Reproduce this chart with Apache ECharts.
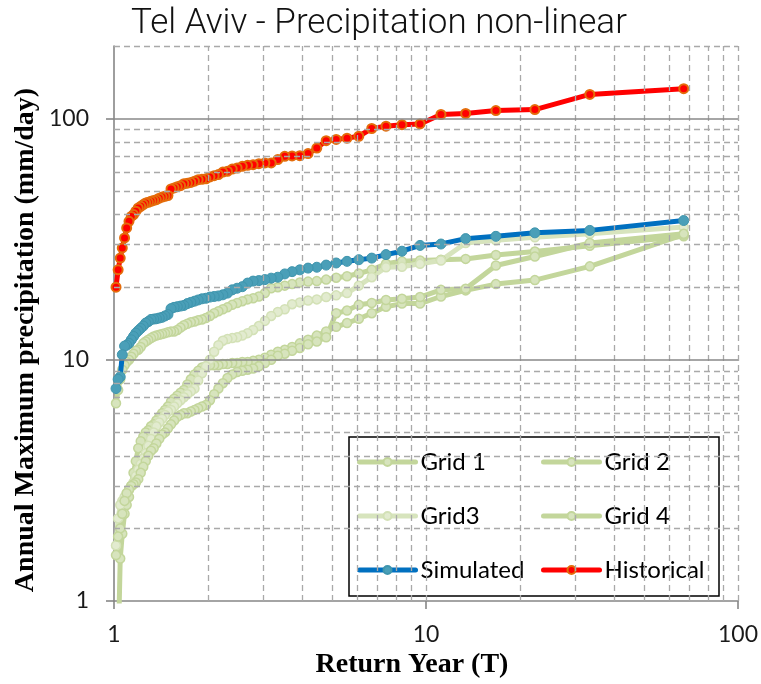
<!DOCTYPE html>
<html>
<head>
<meta charset="utf-8">
<script src="https://cdn.jsdelivr.net/npm/echarts@6/dist/echarts.min.js"></script>
<style>
html,body{margin:0;padding:0;background:#fff;}
#chart{width:761px;height:684px;}
</style>
</head>
<body>
<div id="chart"></div>
<script>
// Return periods T (plotting positions), rank 1..66
const returnYears = [67, 33.5, 22.333, 16.75, 13.4, 11.167, 9.571, 8.375, 7.444, 6.7,
  6.091, 5.583, 5.154, 4.786, 4.467, 4.188, 3.941, 3.722, 3.526, 3.35,
  3.19, 3.045, 2.913, 2.792, 2.68, 2.577, 2.481, 2.393, 2.31, 2.233,
  2.161, 2.094, 2.03, 1.971, 1.914, 1.861, 1.811, 1.763, 1.718, 1.675,
  1.634, 1.595, 1.558, 1.523, 1.489, 1.457, 1.426, 1.396, 1.367, 1.34,
  1.314, 1.288, 1.264, 1.241, 1.218, 1.196, 1.175, 1.155, 1.136, 1.117,
  1.098, 1.081, 1.063, 1.047, 1.031, 1.015];

const grid1 = [32.5, 29.7, 28.1, 27.2, 26.2, 26.0, 25.8, 25.6, 25.0, 23.6,
  22.8, 22.2, 21.9, 21.5, 21.2, 21.1, 20.9, 20.6, 20.3, 20.0,
  19.8, 18.9, 18.3, 18.0, 17.8, 17.5, 17.2, 16.9, 16.5, 16.2,
  15.9, 15.6, 15.2, 14.9, 14.7, 14.6, 14.4, 14.3, 14.1, 13.9,
  13.6, 13.3, 13.1, 13.1, 13.0, 12.9, 12.8, 12.7, 12.6, 12.5,
  12.3, 12.1, 11.9, 11.7, 11.3, 11.0, 10.9, 10.6, 10.3, 10.0,
  9.8, 9.5, 9.1, 8.3, 7.5, 6.6];

const grid2 = [33.0, 24.4, 21.4, 20.6, 19.4, 18.3, 17.1, 17.1, 16.6, 15.6,
  14.8, 14.2, 13.7, 13.1, 12.6, 12.1, 11.7, 11.3, 11.0, 10.8,
  10.5, 10.2, 10.0, 9.9, 9.8, 9.8, 9.7, 9.7, 9.6, 9.6,
  9.5, 9.5, 9.5, 9.4, 9.3, 9.0, 8.7, 8.3, 7.9, 7.5,
  7.3, 7.1, 6.9, 6.7, 6.4, 6.2, 6.0, 5.8, 5.6, 5.4,
  5.3, 5.1, 5.0, 4.8, 4.6, 4.3, 3.8, 3.4, 3.0, 2.7,
  2.5, 2.3, 1.9, 1.5, 0.6, 0.3];

const grid3 = [35.5, 33.3, 32.2, 31.3, 30.5, 25.8, 25.0, 24.3, 24.2, 22.0,
  20.3, 18.9, 18.5, 18.2, 17.8, 17.6, 17.3, 17.0, 16.2, 15.8,
  15.2, 14.5, 13.8, 13.3, 12.9, 12.6, 12.4, 12.3, 12.2, 12.0,
  11.5, 10.8, 10.0, 9.4, 8.8, 8.2, 7.6, 7.4, 7.2, 7.0,
  6.8, 6.6, 6.4, 6.2, 6.1, 5.9, 5.7, 5.5, 5.3, 5.0,
  4.7, 4.4, 4.1, 3.9, 3.7, 3.5, 3.3, 3.1, 3.0, 2.9,
  2.8, 2.7, 2.6, 2.5, 2.2, 1.7];

const grid4 = [33.3, 30.5, 26.8, 24.6, 19.7, 19.5, 18.2, 17.9, 17.7, 17.2,
  16.9, 16.0, 15.6, 12.4, 11.9, 11.6, 11.2, 10.9, 10.6, 10.4,
  10.0, 9.7, 9.4, 9.2, 9.1, 9.0, 8.9, 8.7, 8.4, 8.0,
  7.6, 7.2, 6.8, 6.5, 6.4, 6.3, 6.2, 6.1, 6.0, 6.0,
  5.9, 5.8, 5.6, 5.4, 5.2, 5.0, 4.9, 4.7, 4.5, 4.3,
  4.2, 4.0, 3.8, 3.6, 3.4, 3.2, 3.1, 3.05, 3.0, 2.9,
  2.8, 2.6, 2.3, 2.0, 1.85, 1.55];

const simulated = [37.8, 34.4, 33.6, 32.5, 31.8, 30.2, 29.8, 28.2, 27.3, 26.4,
  26.0, 25.6, 25.2, 24.7, 24.2, 24.0, 23.6, 23.2, 22.7, 22.0,
  21.8, 21.5, 21.3, 21.2, 20.8, 20.1, 19.8, 19.5, 18.9, 18.6,
  18.4, 18.3, 18.2, 18.0, 17.9, 17.7, 17.5, 17.3, 17.1, 16.8,
  16.7, 16.6, 16.5, 16.3, 15.4, 15.2, 15.0, 14.9, 14.8, 14.75,
  14.7, 14.4, 14.2, 13.8, 13.5, 13.2, 12.9, 12.5, 12.1, 11.7,
  11.5, 11.4, 10.5, 8.5, 8.3, 7.6];

const historical = [133, 126, 109, 108, 105, 104, 95, 94.4, 93, 91,
  84.5, 83, 82, 81, 75.5, 71.6, 70.2, 70, 69.8, 67.6,
  65.5, 65.5, 65, 64.4, 64, 63.4, 62.4, 61.8, 60.5, 60,
  58.6, 58, 57.3, 56.3, 56, 55.8, 55, 54.4, 54, 53.7,
  52.7, 52.2, 51.6, 51.1, 48, 47.6, 47.3, 46.8, 46.1, 45.8,
  45.4, 45, 44.7, 44, 43.3, 42.6, 41.3, 40, 39.3, 37.5,
  35.2, 32, 29.1, 26.4, 23.6, 20];

const xTickLabels = [1, 10, 100];
const yTickLabels = [1, 10, 100];
const xMinorGrid = [2, 3, 4, 5, 6, 7, 8, 9, 10, 20, 30, 40, 50, 60, 70, 80, 90, 100];
const yMinorGrid = [2, 3, 4, 5, 6, 7, 8, 9, 20, 30, 40, 50, 60, 70, 80, 90, 200];
const yMajorGrid = [10, 100];
const titleText = 'Tel Aviv - Precipitation non-linear';
const xTitle = 'Return Year (T)';
const yTitle = 'Annual Maximum precipitation (mm/day)';

function pairs(vals) { return vals.map((v, i) => [returnYears[i], v]); }

const chart = echarts.init(document.getElementById('chart'), null, {renderer: 'canvas'});

const gridStyle = {
  green: {line: '#c3d69b', fill: '#d7e4bd', border: '#c3d69b'},
  light: {line: '#d7e4bd', fill: '#e2ebcf', border: '#d3e1b6'}
};

function lineSeries(name, vals, lineColor, fill, border, size, borderW, z) {
  return {
    name: name, type: 'line', data: pairs(vals), z: z,
    symbol: 'circle', symbolSize: size, clip: true,
    lineStyle: {color: lineColor, width: 5, join: 'round', cap: 'round'},
    itemStyle: {color: fill, borderColor: border, borderWidth: borderW},
    emphasis: {disabled: true}
  };
}

const dashed = {color: '#a9a9a9', width: 1.3, type: [6, 4]};
const markLineData = [];
xMinorGrid.forEach(v => markLineData.push({xAxis: v, lineStyle: dashed}));
yMinorGrid.forEach(v => markLineData.push({yAxis: v, lineStyle: dashed}));
yMajorGrid.forEach(v => markLineData.push({yAxis: v, lineStyle: {color: '#898989', width: 1.6, type: 'solid'}}));

const labelFont = 'Lato, "Liberation Sans", sans-serif';

const legendCommon = {
  orient: 'vertical', top: 450, itemWidth: 56, itemHeight: 10, itemGap: 30, padding: 0,
  textStyle: {color: '#000', fontSize: 24, fontFamily: labelFont},
  lineStyle: {width: 5}, selectedMode: false
};

const option = {
  animation: false,
  backgroundColor: '#ffffff',
  grid: {left: 114, right: 23, top: 46, bottom: 83},
  xAxis: {
    type: 'log', logBase: 10, min: 1, max: 100,
    axisLine: {show: true, lineStyle: {color: '#868686', width: 1.6}},
    axisTick: {show: true, length: 8, inside: false, lineStyle: {color: '#868686', width: 1.6}, customValues: xTickLabels},
    axisLabel: {show: true, margin: 22, color: '#1a1a1a', fontSize: 23, fontFamily: labelFont, customValues: xTickLabels},
    splitLine: {show: false}, minorTick: {show: false}
  },
  yAxis: {
    type: 'log', logBase: 10, min: 1, max: 200,
    axisLine: {show: true, lineStyle: {color: '#868686', width: 1.6}},
    axisTick: {show: true, length: 8, inside: false, lineStyle: {color: '#868686', width: 1.6}, customValues: yTickLabels},
    axisLabel: {show: true, margin: 25, color: '#1a1a1a', fontSize: 23, fontFamily: labelFont, customValues: yTickLabels},
    splitLine: {show: false}, minorTick: {show: false}
  },
  legend: [
    Object.assign({left: 357, data: ['Grid 1', 'Grid3', 'Simulated']}, legendCommon),
    Object.assign({left: 541, data: ['Grid 2', 'Grid 4', 'Historical']}, legendCommon)
  ],
  graphic: [
    {type: 'text', left: 131, top: 7, z: 10,
      style: {text: titleText, fill: '#111', font: '300 35px Roboto, "Open Sans", sans-serif'}},
    {type: 'text', x: 26, y: 340, rotation: Math.PI / 2, z: 10,
      style: {text: yTitle, fill: '#000', font: 'bold 28px "Liberation Serif", "Times New Roman", serif', align: 'center', verticalAlign: 'middle'}},
    {type: 'text', x: 412, y: 665, z: 10,
      style: {text: xTitle, fill: '#000', font: 'bold 28px "Liberation Serif", "Times New Roman", serif', align: 'center', verticalAlign: 'middle'}},
    {type: 'rect', shape: {x: 349, y: 437, width: 370, height: 159}, z: 5,
      style: {fill: 'none', stroke: '#000', lineWidth: 1.5}}
  ],
  series: [
    {
      name: 'gridlines', type: 'line', data: [[1, 1]], symbol: 'none', z: 1,
      lineStyle: {opacity: 0}, silent: true,
      markLine: {silent: true, symbol: ['none', 'none'], label: {show: false}, animation: false,
        emphasis: {disabled: true}, data: markLineData}
    },
    lineSeries('Grid 1', grid1, gridStyle.green.line, gridStyle.green.fill, gridStyle.green.border, 9, 1.5, 2),
    lineSeries('Grid 2', grid2, gridStyle.green.line, gridStyle.green.fill, gridStyle.green.border, 9, 1.5, 2),
    lineSeries('Grid3', grid3, gridStyle.light.line, gridStyle.light.fill, gridStyle.light.border, 9, 1.5, 2),
    lineSeries('Grid 4', grid4, gridStyle.green.line, gridStyle.green.fill, gridStyle.green.border, 9, 1.5, 2),
    lineSeries('Simulated', simulated, '#0070c0', '#4a9fb8', '#3f95ad', 10, 1, 3),
    lineSeries('Historical', historical, '#ff0000', '#ff0000', '#e46c0a', 9, 2, 4)
  ]
};
chart.setOption(option);
</script>
</body>
</html>
